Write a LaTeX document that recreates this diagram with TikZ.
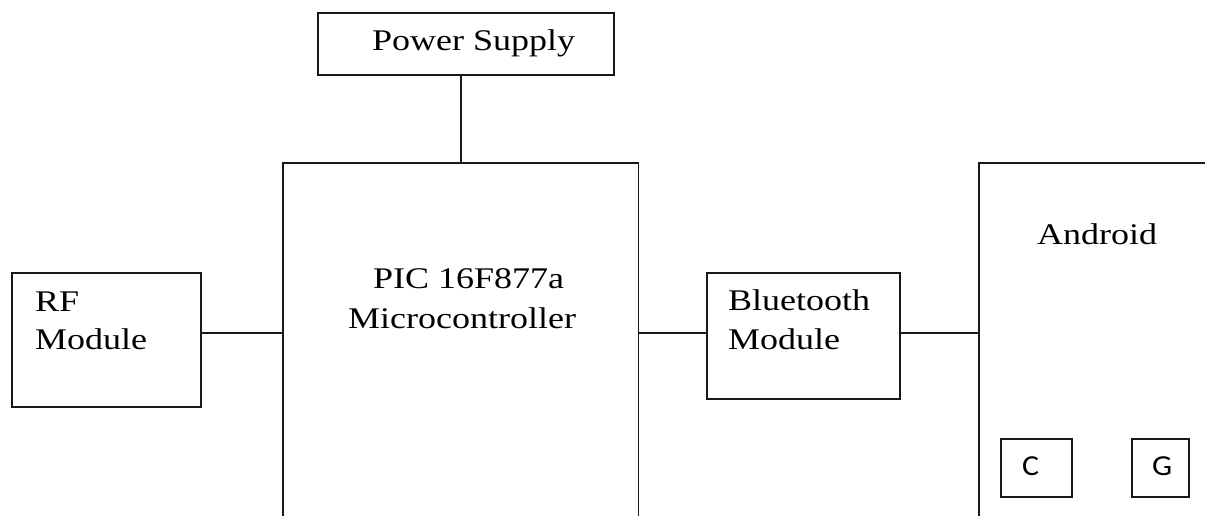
\documentclass[tikz,border=0pt]{standalone}
\usepackage{fontspec}
\setmainfont[FakeStretch=1.2]{Liberation Serif}
\newfontfamily\calib[FakeStretch=1.1]{Carlito}
\begin{document}
\begin{tikzpicture}[x=1pt,y=-1pt,
  ln/.style={line width=1.8pt, draw=black!90},
  blk/.style={ln, draw, rectangle, inner sep=0pt, anchor=north west},
  area/.style={rectangle, inner sep=0pt, anchor=north west},
  txt/.style={anchor=base west, inner sep=0pt, font=\fontsize{30}{30}\selectfont},
  small/.style={anchor=base west, inner sep=0pt, font=\calib\fontsize{29}{29}\selectfont}]
\useasboundingbox[fill=white] (0,0) rectangle (1205,516);
% boxes
\node[blk, minimum width=296pt, minimum height=62pt] (ps) at (317,12) {};
\node[area, minimum width=355pt, minimum height=340pt] (pic) at (283,163) {};
\node[blk, minimum width=189pt, minimum height=134pt] (rf) at (11,272) {};
\node[blk, minimum width=193pt, minimum height=126pt] (bt) at (706,272) {};
\node[area, minimum width=240pt, minimum height=340pt] (and) at (979,163) {};
\node[blk, minimum width=71pt, minimum height=58pt] (c) at (1000,438) {};
\node[blk, minimum width=57pt, minimum height=58pt] (g) at (1131,438) {};
% open outlines
\draw[ln] (pic.north west |- 0,520) -- (pic.north west) -- (pic.north east) -- (pic.north east |- 0,520);
\draw[ln] (and.north west |- 0,520) -- (and.north west) -- (1210,163);
% texts
\node[txt] (tps) at (372,51) {Power Supply};
\node[txt] (trf1) at (35,311) {RF};
\node[txt] (trf2) at (35,349) {Module};
\node[txt] (tpic1) at (373,288) {PIC 16F877a};
\node[txt] (tpic2) at (348,328) {Microcontroller};
\node[txt] (tbt1) at (728,310) {Bluetooth};
\node[txt] (tbt2) at (728,349) {Module};
\node[txt] (tand) at (1037,244) {Android};
\node[small] (tc) at (1022,475) {C};
\node[small] (tg) at (1152,475) {G};
% connectors
\draw[ln] (pic.north) -- (pic.north |- ps.south);
\draw[ln] (rf.east |- pic.west) -- (pic.west);
\draw[ln] (pic.east) -- (bt.west |- pic.east);
\draw[ln] (bt.east |- and.west) -- (and.west);
\end{tikzpicture}
\end{document}
